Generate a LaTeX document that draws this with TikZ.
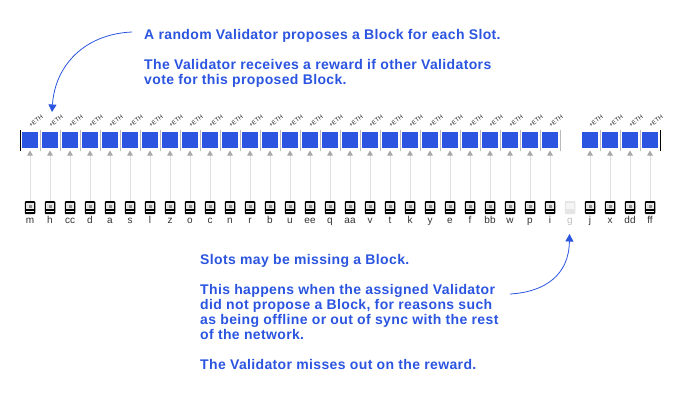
\documentclass[tikz,border=0pt]{standalone}
\usepackage{fontspec}
\setmainfont{Liberation Sans}
\newfontfamily\notefont[LetterSpace=2.6]{Liberation Sans}
\usetikzlibrary{arrows.meta}
\definecolor{bl}{HTML}{2B55E0}
\definecolor{arrgray}{HTML}{E0E0E0}
\definecolor{headgray}{HTML}{A8A8A8}
\definecolor{sepgray}{HTML}{BBBBBB}
\tikzset{
  x=1pt,y=-1pt,
  blockbox/.style={fill=bl,draw=none,minimum width=16.5pt,minimum height=16.5pt,inner sep=0pt,outer sep=2.25pt},
  valbody/.style={fill=black,draw=none,rounded corners=1pt,minimum width=10.5pt,minimum height=13pt,inner sep=0pt},
  valghost/.style={fill=black!10,draw=none,rounded corners=1pt,minimum width=10.5pt,minimum height=13pt,inner sep=0pt},
  valscreen/.style={fill=black!10,draw=none,minimum width=7.5pt,minimum height=6.6pt,inner sep=0pt},
  valcore/.style={fill=black!45,draw=none,minimum width=3pt,minimum height=3pt,inner sep=0pt},
  valstripe/.style={fill=white,draw=none,minimum width=8.5pt,minimum height=.7pt,inner sep=0pt},
  vallabel/.style={font=\fontsize{10}{10}\selectfont,text=black!80,inner sep=0pt,anchor=base},
  ethlabel/.style={font=\fontsize{6}{6}\selectfont,text=black!85,inner sep=0pt,rotate=35},
  voteline/.style={draw=arrgray,line width=1pt,-{Triangle[length=5pt,width=5.5pt,color=headgray]}},
  sepline/.style={draw=sepgray,line width=.9pt},
  endline/.style={draw=black,line width=1pt},
  note/.style={font=\notefont\fontsize{14}{15}\bfseries\selectfont,text=bl,inner sep=0pt,anchor=base west,align=left},
  callout/.style={draw=bl,line width=.8pt,-{Triangle[length=7.5pt,width=8pt]}}
}
\begin{document}
\begin{tikzpicture}
\useasboundingbox[fill=white] (0,0) rectangle (680,400);
\foreach \n [count=\i from 0] in {m,h,cc,d,a,s,l,z,o,c,n,r,b,u,ee,q,aa,v,t,k,y,e,f,bb,w,p,i,g,j,x,dd,ff}{
  \pgfmathsetmacro{\px}{30+20*\i}
  \ifnum\i=27
    \node[valghost] (v\i) at (\px,207.5) {};
    \node[valscreen,fill=black!4] (s\i) at (\px,206) {};
    \node[vallabel,text=black!25] (l\i) at (\px,223) {\n};
  \else
    \node[blockbox] (b\i) at (\px,140) {};
    \node[ethlabel] (e\i) at (\px+6,121) {+ETH};
    \node[valbody] (v\i) at (\px,207.5) {};
    \node[valscreen] (s\i) at (\px,206) {};
    \node[valcore] (k\i) at (\px,206) {};
    \node[valstripe] (w\i) at (\px,211.3) {};
    \node[vallabel] (l\i) at (\px,223) {\n};
    \draw[voteline] (v\i.north) -- (b\i.south);
  \fi
}
\foreach \i in {0,...,26,28,29,30}{
  \draw[sepline] (40.5+20*\i,129.5) -- (40.5+20*\i,150.5);
}
\draw[endline] (20.5,129.5) -- (20.5,150.5);
\draw[endline] (660.5,129.5) -- (660.5,150.5);
\node[note] (n1) at (144,39) {A random Validator proposes a Block for each Slot.};
\node[note] (n2) at (144,84) {The Validator receives a reward if other Validators\\vote for this proposed Block.};
\node[note] (n3) at (200,264) {Slots may be missing a Block.};
\node[note] (n4) at (200,339) {This happens when the assigned Validator\\did not propose a Block, for reasons such\\as being offline or out of sync with the rest\\of the network.};
\node[note] (n5) at (200,369) {The Validator misses out on the reward.};
\coordinate (c1) at (132,32);
\coordinate (t1) at (52,112);
\coordinate (c2) at (510,294);
\coordinate (t2) at (569.5,234);
\draw[callout] (c1) .. controls (85,34) and (55,65) .. (t1);
\draw[callout] (c2) .. controls (545,292) and (569,275) .. (t2);
\end{tikzpicture}
\end{document}
